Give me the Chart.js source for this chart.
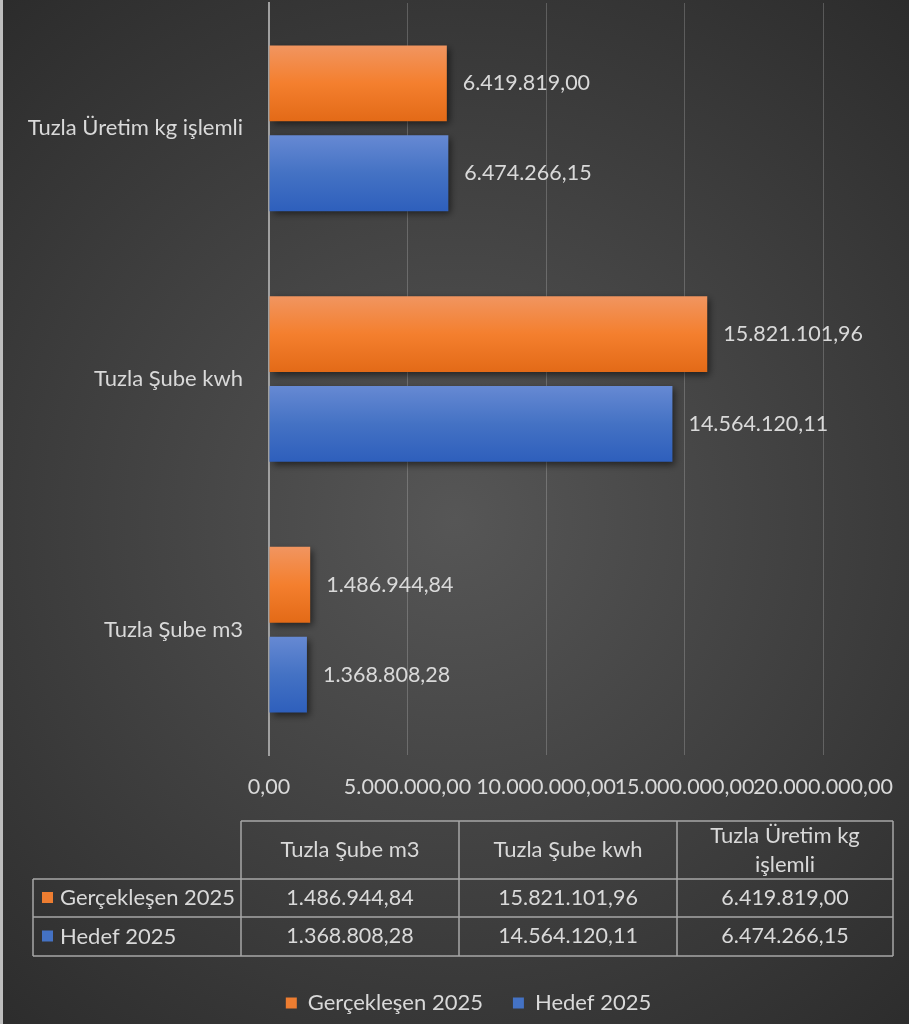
<!DOCTYPE html>
<html>
<head>
<meta charset="utf-8">
<script src="https://cdn.jsdelivr.net/npm/chart.js@4/dist/chart.umd.min.js"></script>
<style>
html,body{margin:0;padding:0;background:#333;}
#wrap{width:909px;height:1024px;position:relative;}
canvas{display:block;}
</style>
</head>
<body>
<div id="wrap"><canvas id="c" width="909" height="1024"></canvas></div>
<script>
// ---- data ----
const categories = ['Tuzla Şube m3', 'Tuzla Şube kwh', 'Tuzla Üretim kg işlemli'];
const seriesNames = ['Gerçekleşen 2025', 'Hedef 2025'];
const gerceklesen = [1486944.84, 15821101.96, 6419819.00];
const hedef = [1368808.28, 14564120.11, 6474266.15];
const axisMin = 0;
const axisMax = 20000000;
const axisStep = 5000000;

// ---- styles ----
const FONT = 'Lato, "Open Sans", sans-serif';
const TXT = '#d9d9d9';
const solid = ['#ed7d31', '#4472c4'];
const grads = [
  ['#f19560', '#f47f2e', '#e36a17'],
  ['#6689d3', '#4472c4', '#2e5fbc']
];

function fmt(v) {
  const parts = v.toFixed(2).split('.');
  return parts[0].replace(/\B(?=(\d{3})+(?!\d))/g, '.') + ',' + parts[1];
}

const bgPlugin = {
  id: 'bg',
  beforeDraw(chart) {
    const ctx = chart.ctx, w = chart.width, h = chart.height;
    ctx.save();
    const g = ctx.createRadialGradient(455, 520, 0, 455, 520, 720);
    g.addColorStop(0, '#565656');
    g.addColorStop(1, '#2a2a2a');
    ctx.fillStyle = g;
    ctx.fillRect(0, 0, w, h);
    ctx.fillStyle = '#bdbdbd';
    ctx.fillRect(0, 0, 3, h);
    ctx.restore();
  }
};

const legendShift = {
  id: 'legendShift',
  afterLayout(chart) {
    const lg = chart.legend;
    if (lg) { lg.left += 14; lg.right += 14; }
  }
};

const gradPlugin = {
  id: 'barGrad',
  afterDatasetsUpdate(chart) {
    const ctx = chart.ctx;
    chart.data.datasets.forEach((ds, di) => {
      const meta = chart.getDatasetMeta(di);
      meta.data.forEach(el => {
        if (!el.options || Object.isFrozen(el.options)) return;
        const top = el.y - el.height / 2, bot = el.y + el.height / 2;
        const g = ctx.createLinearGradient(0, top, 0, bot);
        g.addColorStop(0, grads[di][0]);
        g.addColorStop(0.5, grads[di][1]);
        g.addColorStop(1, grads[di][2]);
        el.options.backgroundColor = g;
      });
    });
  },
  beforeDatasetsDraw(chart) {
    const ctx = chart.ctx;
    ctx.save();
    ctx.shadowColor = 'rgba(0,0,0,0.55)';
    ctx.shadowBlur = 7;
    ctx.shadowOffsetX = 3;
    ctx.shadowOffsetY = 3;
  },
  afterDatasetsDraw(chart) {
    const ctx = chart.ctx;
    ctx.restore();
    ctx.save();
    ctx.fillStyle = TXT;
    ctx.font = '21.5px ' + FONT;
    ctx.textBaseline = 'middle';
    ctx.textAlign = 'left';
    chart.data.datasets.forEach((ds, di) => {
      const meta = chart.getDatasetMeta(di);
      meta.data.forEach((el, i) => {
        ctx.fillText(fmt(ds.data[i]), el.x + 16, el.y);
      });
    });
    ctx.restore();
  }
};

function wrapText(ctx, text, maxW) {
  const words = text.split(' ');
  const lines = [];
  let cur = '';
  words.forEach(w => {
    const t = cur ? cur + ' ' + w : w;
    if (ctx.measureText(t).width > maxW && cur) { lines.push(cur); cur = w; }
    else cur = t;
  });
  if (cur) lines.push(cur);
  return lines;
}

const tablePlugin = {
  id: 'dataTable',
  afterDraw(chart) {
    const ctx = chart.ctx;
    const colX = [241, 459, 677, 893];
    const labelX = 33;
    const rowY = [821, 879, 917, 956];
    const series = [gerceklesen, hedef];
    ctx.save();
    ctx.strokeStyle = '#a6a6a6';
    ctx.lineWidth = 1.5;
    ctx.beginPath();
    ctx.moveTo(colX[0], rowY[0]); ctx.lineTo(colX[3], rowY[0]);
    for (let r = 1; r < rowY.length; r++) {
      ctx.moveTo(labelX, rowY[r]); ctx.lineTo(colX[3], rowY[r]);
    }
    ctx.moveTo(labelX, rowY[1]); ctx.lineTo(labelX, rowY[3]);
    colX.forEach(cx => { ctx.moveTo(cx, rowY[0]); ctx.lineTo(cx, rowY[3]); });
    ctx.stroke();

    ctx.fillStyle = TXT;
    ctx.font = '22px ' + FONT;
    ctx.textAlign = 'center';
    ctx.textBaseline = 'middle';
    categories.forEach((c, i) => {
      const cx = (colX[i] + colX[i + 1]) / 2;
      const lines = wrapText(ctx, c, colX[i + 1] - colX[i] - 30);
      const lh = 29;
      const cy = (rowY[0] + rowY[1]) / 2;
      lines.forEach((ln, k) => {
        ctx.fillText(ln, cx, cy + (k - (lines.length - 1) / 2) * lh);
      });
    });
    series.forEach((s, r) => {
      const cy = (rowY[r + 1] + rowY[r + 2]) / 2;
      ctx.font = '21.5px ' + FONT;
      ctx.textAlign = 'center';
      s.forEach((v, i) => {
        ctx.fillText(fmt(v), (colX[i] + colX[i + 1]) / 2, cy);
      });
      ctx.fillStyle = solid[r];
      ctx.fillRect(42, cy - 6, 11, 11);
      ctx.fillStyle = TXT;
      ctx.textAlign = 'left';
      ctx.font = '22px ' + FONT;
      ctx.fillText(seriesNames[r], 60, cy);
    });
    ctx.restore();
  }
};

const mkColor = (di) => (ctx) => solid[di];

new Chart(document.getElementById('c'), {
  type: 'bar',
  data: {
    labels: categories,
    datasets: [
      { label: seriesNames[0], data: gerceklesen, backgroundColor: mkColor(0), borderWidth: 0,
        categoryPercentage: 0.717, barPercentage: 0.844 },
      { label: seriesNames[1], data: hedef, backgroundColor: mkColor(1), borderWidth: 0,
        categoryPercentage: 0.717, barPercentage: 0.844 }
    ]
  },
  options: {
    indexAxis: 'y',
    responsive: false,
    animation: false,
    layout: { padding: { top: 3, left: 0, right: 0, bottom: 0 } },
    scales: {
      x: {
        min: axisMin, max: axisMax,
        afterFit(scale) { scale.height = 207; scale.paddingLeft = 0; scale.paddingRight = 86; },
        afterBuildTicks(scale) {
          const t = [];
          for (let v = axisMin; v <= axisMax; v += axisStep) t.push({ value: v });
          scale.ticks = t;
        },
        ticks: {
          autoSkip: false, maxRotation: 0, minRotation: 0,
          color: TXT, font: { family: FONT, size: 21.5 }, padding: 19,
          callback: (v) => fmt(v)
        },
        grid: { color: 'rgba(255,255,255,0.2)', lineWidth: 1, drawTicks: false },
        border: { display: false }
      },
      y: {
        reverse: true,
        afterFit(scale) { scale.width = 269; scale.paddingTop = 0; scale.paddingBottom = 0; },
        ticks: { color: TXT, font: { family: FONT, size: 22 }, padding: 26 },
        grid: { display: false, drawTicks: false },
        border: { display: true, color: '#a0a0a0', width: 2 }
      }
    },
    plugins: {
      legend: {
        position: 'bottom',
        labels: {
          color: TXT, font: { family: FONT, size: 22 },
          boxWidth: 11, boxHeight: 11, padding: 30
        }
      },
      tooltip: { enabled: false }
    }
  },
  plugins: [bgPlugin, legendShift, gradPlugin, tablePlugin]
});
</script>
</body>
</html>
